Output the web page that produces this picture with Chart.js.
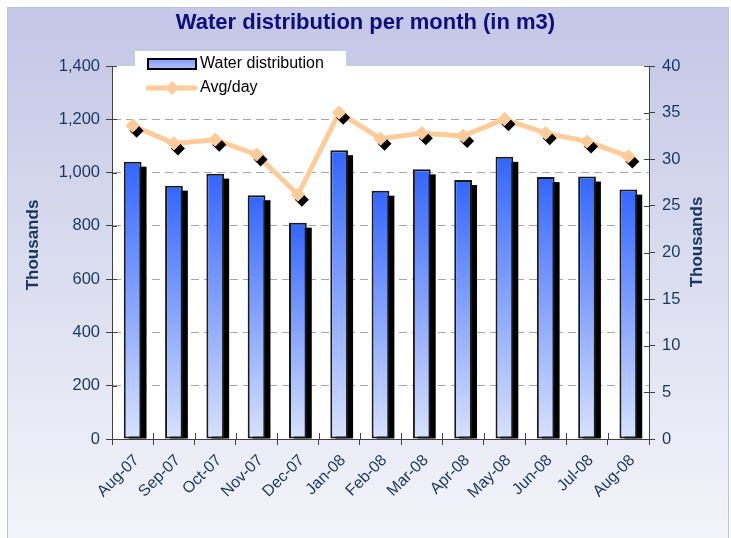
<!DOCTYPE html>
<html><head><meta charset="utf-8">
<script src="https://cdn.jsdelivr.net/npm/chart.js@4"></script>
<style>html,body{margin:0;padding:0;background:#fff}canvas{display:block}</style>
</head><body>
<canvas id="c" width="731" height="538"></canvas>
<script>
const categories = ['Aug-07','Sep-07','Oct-07','Nov-07','Dec-07','Jan-08','Feb-08','Mar-08','Apr-08','May-08','Jun-08','Jul-08','Aug-08'];
const waterDistribution = [1041, 951, 996, 915, 812, 1084, 932, 1012, 972, 1059, 983, 985, 936];
const avgPerDay = [33.6, 31.7, 32.1, 30.5, 26.2, 35.0, 32.2, 32.8, 32.5, 34.3, 32.8, 31.9, 30.3];
const leftTickValues = [0, 200, 400, 600, 800, 1000, 1200, 1400];
const rightTickValues = [0, 5, 10, 15, 20, 25, 30, 35, 40];
const titleText = 'Water distribution per month (in m3)';
const axisTitleText = 'Thousands';
const seriesNames = ['Water distribution', 'Avg/day'];

const FONT = '"Liberation Sans", Arial, sans-serif';
const AXIS_COLOR = '#404040';
const LABEL_COLOR = '#17375e';
const PEACH = '#ffcc99';

const bgPlugin = {
  id: 'bg',
  beforeDraw(chart) {
    const ctx = chart.ctx, ca = chart.chartArea;
    ctx.save();
    ctx.fillStyle = '#fff';
    ctx.fillRect(0, 0, chart.width, chart.height);
    const g = ctx.createLinearGradient(0, 40, 0, 538);
    g.addColorStop(0, '#c6c9e7');
    g.addColorStop(1, '#f3f4fa');
    ctx.fillStyle = g;
    ctx.fillRect(7, 40, 722, 498);
    ctx.fillStyle = '#c5c8e6';
    ctx.fillRect(7, 7, 722, 34);
    ctx.strokeStyle = '#bcc0e2';
    ctx.lineWidth = 1;
    ctx.strokeRect(7.5, 7.5, 721, 532);
    ctx.fillStyle = '#fff';
    ctx.fillRect(ca.left, ca.top, ca.right - ca.left, ca.bottom - ca.top);
    ctx.restore();
  }
};

function diamond(ctx, x, y, r) {
  ctx.beginPath();
  ctx.moveTo(x - r, y);
  ctx.lineTo(x, y - r);
  ctx.lineTo(x + r, y);
  ctx.lineTo(x, y + r);
  ctx.closePath();
}

const shadowPlugin = {
  id: 'shadows',
  beforeDatasetDraw(chart, args) {
    if (args.index !== 0) return;
    const ctx = chart.ctx, ca = chart.chartArea;
    ctx.save();
    ctx.beginPath();
    ctx.rect(ca.left, ca.top, ca.right - ca.left, ca.bottom - ca.top);
    ctx.clip();
    ctx.fillStyle = '#000';
    args.meta.data.forEach(b => {
      const p = b.getProps(['x', 'y', 'base', 'width'], true);
      ctx.fillRect(p.x - p.width / 2 + 5, p.y + 5, p.width, p.base - p.y - 5);
    });
    ctx.restore();
  },
  afterDatasetDraw(chart, args) {
    if (args.index !== 1) return;
    const ctx = chart.ctx;
    ctx.save();
    ctx.fillStyle = '#000';
    args.meta.data.forEach(pt => {
      diamond(ctx, pt.x + 4, pt.y + 5, 7);
      ctx.fill();
    });
    ctx.restore();
    args.meta.data.forEach(pt => pt.draw(ctx, chart.chartArea));
  }
};

const decoPlugin = {
  id: 'deco',
  afterDraw(chart) {
    const ctx = chart.ctx, ca = chart.chartArea;
    const y = chart.scales.y, y1 = chart.scales.y1, x = chart.scales.x;
    ctx.save();
    // inner halves of tick marks
    ctx.strokeStyle = AXIS_COLOR;
    ctx.lineWidth = 1;
    ctx.beginPath();
    leftTickValues.forEach(v => {
      const py = Math.round(y.getPixelForValue(v)) + 0.5;
      ctx.moveTo(ca.left, py); ctx.lineTo(ca.left + 5, py);
    });
    rightTickValues.forEach(v => {
      const py = Math.round(y1.getPixelForValue(v)) + 0.5;
      ctx.moveTo(ca.right - 5, py); ctx.lineTo(ca.right, py);
    });
    const step = x.getPixelForValue(1) - x.getPixelForValue(0);
    for (let i = 0; i <= categories.length; i++) {
      const px = Math.round(x.getPixelForValue(i) - step / 2) + 0.5;
      ctx.moveTo(px, ca.bottom); ctx.lineTo(px, ca.bottom - 6);
    }
    ctx.stroke();

    // axis titles
    ctx.fillStyle = LABEL_COLOR;
    ctx.font = 'bold 17px ' + FONT;
    ctx.textAlign = 'center';
    ctx.textBaseline = 'middle';
    [[33.5, 245], [697, 242]].forEach(([tx, ty]) => {
      ctx.save();
      ctx.translate(tx, ty);
      ctx.rotate(-Math.PI / 2);
      ctx.fillText(axisTitleText, 0, 0);
      ctx.restore();
    });

    // legend
    ctx.fillStyle = '#fff';
    ctx.fillRect(135, 51, 211, 53);
    const lg = ctx.createLinearGradient(0, 58, 0, 70);
    lg.addColorStop(0, '#7d96ff');
    lg.addColorStop(1, '#b5c5ff');
    ctx.fillStyle = lg;
    ctx.fillRect(148, 59, 48, 10);
    ctx.strokeStyle = '#000';
    ctx.lineWidth = 2;
    ctx.strokeRect(148, 59, 48, 10);
    ctx.strokeStyle = PEACH;
    ctx.lineWidth = 5;
    ctx.beginPath();
    ctx.moveTo(146, 88); ctx.lineTo(197, 88);
    ctx.stroke();
    ctx.fillStyle = PEACH;
    diamond(ctx, 172, 88, 7);
    ctx.fill();
    ctx.fillStyle = '#000';
    ctx.font = '16px ' + FONT;
    ctx.textAlign = 'left';
    ctx.fillText(seriesNames[0], 200, 64);
    ctx.fillText(seriesNames[1], 200, 88);
    ctx.restore();
  }
};

const barGradient = (c) => {
  const chart = c.chart;
  if (!chart.chartArea || c.type !== 'data') return '#3366ff';
  const yTop = chart.scales.y.getPixelForValue(c.raw);
  const yBot = chart.scales.y.getPixelForValue(0);
  const g = chart.ctx.createLinearGradient(0, yTop, 0, yBot);
  g.addColorStop(0, '#3366ff');
  g.addColorStop(1, '#d8e2ff');
  return g;
};

new Chart(document.getElementById('c'), {
  type: 'bar',
  data: {
    labels: categories,
    datasets: [
      {
        type: 'bar',
        label: seriesNames[0],
        data: waterDistribution,
        yAxisID: 'y',
        backgroundColor: barGradient,
        borderColor: '#1a1a1a',
        borderWidth: 2,
        borderSkipped: false,
        categoryPercentage: 1,
        barPercentage: 0.43,
        order: 1
      },
      {
        type: 'line',
        label: seriesNames[1],
        data: avgPerDay,
        yAxisID: 'y1',
        borderColor: PEACH,
        borderWidth: 5,
        tension: 0,
        pointStyle: 'rectRot',
        pointRadius: 6.5,
        pointBorderWidth: 1,
        pointBackgroundColor: PEACH,
        pointBorderColor: PEACH,
        order: 0
      }
    ]
  },
  options: {
    responsive: false,
    animation: false,
    events: [],
    layout: { padding: 0 },
    plugins: {
      legend: { display: false },
      tooltip: { enabled: false },
      title: {
        display: true,
        text: titleText,
        color: '#0d0d80',
        font: { family: FONT, size: 22, weight: 'bold', lineHeight: 1.2 },
        padding: { top: 10, bottom: 29.6 }
      }
    },
    scales: {
      x: {
        offset: true,
        grid: { offset: true, drawOnChartArea: false, drawTicks: true, tickLength: 6, tickColor: AXIS_COLOR, color: AXIS_COLOR },
        border: { display: true, color: AXIS_COLOR, width: 1 },
        ticks: {
          autoSkip: false, minRotation: 45, maxRotation: 45, padding: 6, labelOffset: 4,
          color: LABEL_COLOR, font: { family: FONT, size: 16 }
        },
        afterFit(s) { s.height = 99; }
      },
      y: {
        position: 'left',
        min: 0, max: 1400,
        afterBuildTicks(s) { s.ticks = leftTickValues.map(v => ({ value: v })); },
        grid: {
          drawTicks: true, tickLength: 6, tickColor: AXIS_COLOR,
          color: (c) => (c.tick && (c.tick.value === 0 || c.tick.value === 1400)) ? 'rgba(0,0,0,0)' : '#a6a6a6',
          lineWidth: 1
        },
        border: { display: true, color: AXIS_COLOR, width: 1, dash: [8, 5] },
        ticks: {
          padding: 6, color: LABEL_COLOR, font: { family: FONT, size: 16.5 },
          callback: (v) => Number(v).toLocaleString('en-US')
        },
        afterFit(s) { s.width = 112; }
      },
      y1: {
        position: 'right',
        min: 0, max: 40,
        afterBuildTicks(s) { s.ticks = rightTickValues.map(v => ({ value: v })); },
        grid: { drawOnChartArea: false, drawTicks: true, tickLength: 6, tickColor: AXIS_COLOR },
        border: { display: true, color: AXIS_COLOR, width: 1 },
        ticks: { padding: 7, color: LABEL_COLOR, font: { family: FONT, size: 16.5 } },
        afterFit(s) { s.width = 82; }
      }
    }
  },
  plugins: [bgPlugin, shadowPlugin, decoPlugin]
});
</script>
</body></html>
